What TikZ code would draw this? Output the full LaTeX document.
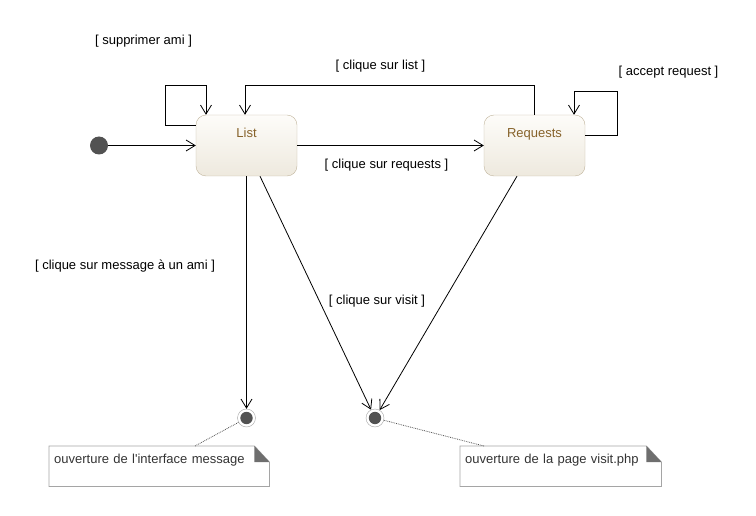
\documentclass[tikz,border=0pt]{standalone}
\usepackage{fontspec}
\setmainfont{Liberation Sans}
\usetikzlibrary{arrows.meta}

\definecolor{stbrown}{RGB}{134,98,42}
\definecolor{stborder}{RGB}{192,180,156}
\definecolor{sttop}{RGB}{253,252,249}
\definecolor{stbottom}{RGB}{238,233,222}
\definecolor{dotgray}{RGB}{82,82,82}
\definecolor{notegray}{RGB}{165,165,165}
\definecolor{notetext}{RGB}{51,51,51}
\definecolor{foldgray}{RGB}{110,110,110}

\tikzset{
  state/.style={rectangle, rounded corners=10pt, draw=stborder, top color=sttop, bottom color=stbottom,
    minimum width=101pt, minimum height=61pt, inner sep=0pt},
  stname/.style={text=stbrown, text height=9.5pt, text depth=2.7pt, label distance=-29pt},
  initst/.style={circle, fill=dotgray, minimum size=18pt, inner sep=0pt},
  finalst/.style={circle, draw=notegray, fill=white, minimum size=18pt, inner sep=0pt,
    path picture={\fill[dotgray] (path picture bounding box.center) circle (6.2pt);}},
  trans/.style={->, line width=0.8pt},
  guard/.style={text height=9.5pt, text depth=2.7pt, inner sep=1pt},
  note/.style={text=notetext, anchor=north west, inner xsep=5pt, inner ysep=4.5pt,
    text height=12.5pt, text depth=18.5pt, align=left},
  notelink/.style={densely dotted, draw=dotgray, line width=0.8pt},
}

% folded corner of a note
\newcommand{\notefold}[1]{%
  \draw[notegray, line width=0.8pt] (#1.north west) -- ([xshift=-15pt]#1.north east)
    -- ([yshift=-16pt]#1.north east) -- (#1.south east) -- (#1.south west) -- cycle;
  \fill[foldgray] ([xshift=-15pt]#1.north east) -- ([yshift=-16pt]#1.north east)
    -- ([xshift=-15pt,yshift=-16pt]#1.north east) -- cycle;
}

\begin{document}
\begin{tikzpicture}[x=1pt, y=-1pt, font=\fontsize{13}{15}\selectfont,
  >={Straight Barb[length=9pt,width=11pt]}]
  \useasboundingbox (0,0) rectangle (756,516);

  % states
  \node[initst] (init) at (99,145.5) {};
  \node[state, label={[stname]north:List}] (list) at (246.5,145.5) {};
  \node[state, label={[stname]north:Requests}] (req) at (534.5,145.5) {};
  \node[finalst] (fin1) at (246.5,418) {};
  \node[finalst] (fin2) at (375,418) {};

  % transitions
  \draw[trans] (init) -- (list);
  \draw[trans] (list) -- (req);
  \draw[trans] (req.north) -- ++(0,-29) -| ([xshift=-1.5pt]list.north);
  \draw[trans] ([yshift=20.5pt]list.west) -- ++(-30,0) -- ++(0,-40) -| ([xshift=-40.5pt]list.north);
  \draw[trans] ([yshift=10pt]req.east) -- ++(32,0) -- ++(0,-44) -| ([xshift=39.5pt]req.north);
  \draw[trans] (list) -- (fin1);
  \draw[trans] ([xshift=13.5pt]list.south) -- (fin2);
  \draw[trans] ([xshift=-17.5pt]req.south) -- (fin2);

  % guards
  \node[guard] (gsuppr) at (143.5,41.5) {[ supprimer ami ]};
  \node[guard] (glist) at (380.5,66.5) {[ clique sur list ]};
  \node[guard] (gaccept) at (668.5,72) {[ accept request ]};
  \node[guard] (greq) at (386.5,165) {[ clique sur requests ]};
  \node[guard] (gmsg) at (125,266) {[ clique sur message à un ami ]};
  \node[guard] (gvisit) at (377,301) {[ clique sur visit ]};

  % notes
  \node[note, text width=210pt] (note1) at (49,446) {ouverture de l\textquotesingle interface message};
  \node[note, text width=191pt] (note2) at (460,446) {ouverture de la page visit.php};
  \notefold{note1}
  \notefold{note2}
  \draw[notelink] (fin1) -- ([xshift=146pt]note1.north west);
  \draw[notelink] (fin2) -- ([xshift=24pt]note2.north west);
\end{tikzpicture}
\end{document}
